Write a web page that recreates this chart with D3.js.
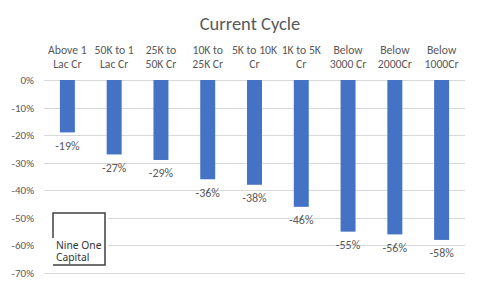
<!DOCTYPE html>
<html lang="en">
<head>
<meta charset="UTF-8">
<title>Current Cycle</title>
<script src="https://d3js.org/d3.v7.min.js"></script>
<style>
    body { margin: 0; background: #fff; font-family: Calibri, Carlito, "Liberation Sans", Arial, sans-serif; }
    svg { display: block; }
    .grid line { stroke: #d9d9d9; stroke-width: 1px; }
    .bar { fill: #4472c4; }
    text { fill: #595959; }
</style>
</head>
<body>
<svg></svg>
<script>
    // 数据
    const categories = ["Above 1|Lac Cr", "50K to 1|Lac Cr", "25K to|50K Cr", "10K to|25K Cr",
        "5K to 10K|Cr", "1K to 5K|Cr", "Below|3000 Cr", "Below|2000Cr", "Below|1000Cr"];
    const values = [-19, -27, -29, -36, -38, -46, -55, -56, -58];
    const yTicks = [0, -10, -20, -30, -40, -50, -60, -70];

    const width = 500, height = 300;
    const svg = d3.select("svg").attr("width", width).attr("height", height);

    const x = d3.scaleBand().domain(categories).range([44, 465])
        .paddingInner(0.68).paddingOuter(0.34);
    const y = d3.scaleLinear().domain([0, -70]).range([80, 273]);

    // 标题
    svg.append("text")
        .attr("x", 250).attr("y", 29.5)
        .attr("text-anchor", "middle")
        .style("font-size", "18.5px")
        .text("Current Cycle");

    // 网格线
    svg.append("g").attr("class", "grid")
        .selectAll("line").data(yTicks).join("line")
        .attr("x1", 44).attr("x2", 465)
        .attr("y1", d => Math.round(y(d)) + 0.5).attr("y2", d => Math.round(y(d)) + 0.5);

    // y轴标签
    svg.append("g")
        .selectAll("text").data(yTicks).join("text")
        .attr("x", 34).attr("y", d => y(d) + 4)
        .attr("text-anchor", "end")
        .style("font-size", "11px")
        .text(d => d + "%");

    // 类别标签（顶部，两行）
    const cat = svg.append("g").selectAll("text").data(categories).join("text")
        .attr("text-anchor", "middle")
        .style("font-size", "11.7px");
    cat.selectAll("tspan").data(d => d.split("|").map(t => ({ t, c: d }))).join("tspan")
        .attr("x", d => x(d.c) + x.bandwidth() / 2)
        .attr("y", (d, i) => 54 + i * 14)
        .text(d => d.t);

    // 柱子
    svg.append("g").selectAll("rect").data(values).join("rect")
        .attr("class", "bar")
        .attr("x", (d, i) => x(categories[i]))
        .attr("width", x.bandwidth())
        .attr("y", y(0))
        .attr("height", d => y(d) - y(0));

    // 数据标签
    svg.append("g").selectAll("text").data(values).join("text")
        .attr("x", (d, i) => x(categories[i]) + x.bandwidth() / 2)
        .attr("y", d => y(d) + 17.5)
        .attr("text-anchor", "middle")
        .style("font-size", "12px")
        .text(d => d + "%");

    // 水印框
    const wm = svg.append("g");
    wm.append("rect").attr("x", 44).attr("y", 211).attr("width", 64).attr("height", 56).attr("fill", "#fff");
    wm.append("path")
        .attr("d", "M53,238 V213 H105 V265 H53")
        .attr("fill", "none").attr("stroke", "#404040").attr("stroke-width", 1.5);
    const wmText = wm.append("text")
        .style("font-size", "10.3px").style("fill", "#333")
        .style("font-family", "'Noto Sans', sans-serif");
    wmText.append("tspan").attr("x", 56).attr("y", 249).text("Nine One");
    wmText.append("tspan").attr("x", 56).attr("y", 261).text("Capital");
</script>
</body>
</html>
